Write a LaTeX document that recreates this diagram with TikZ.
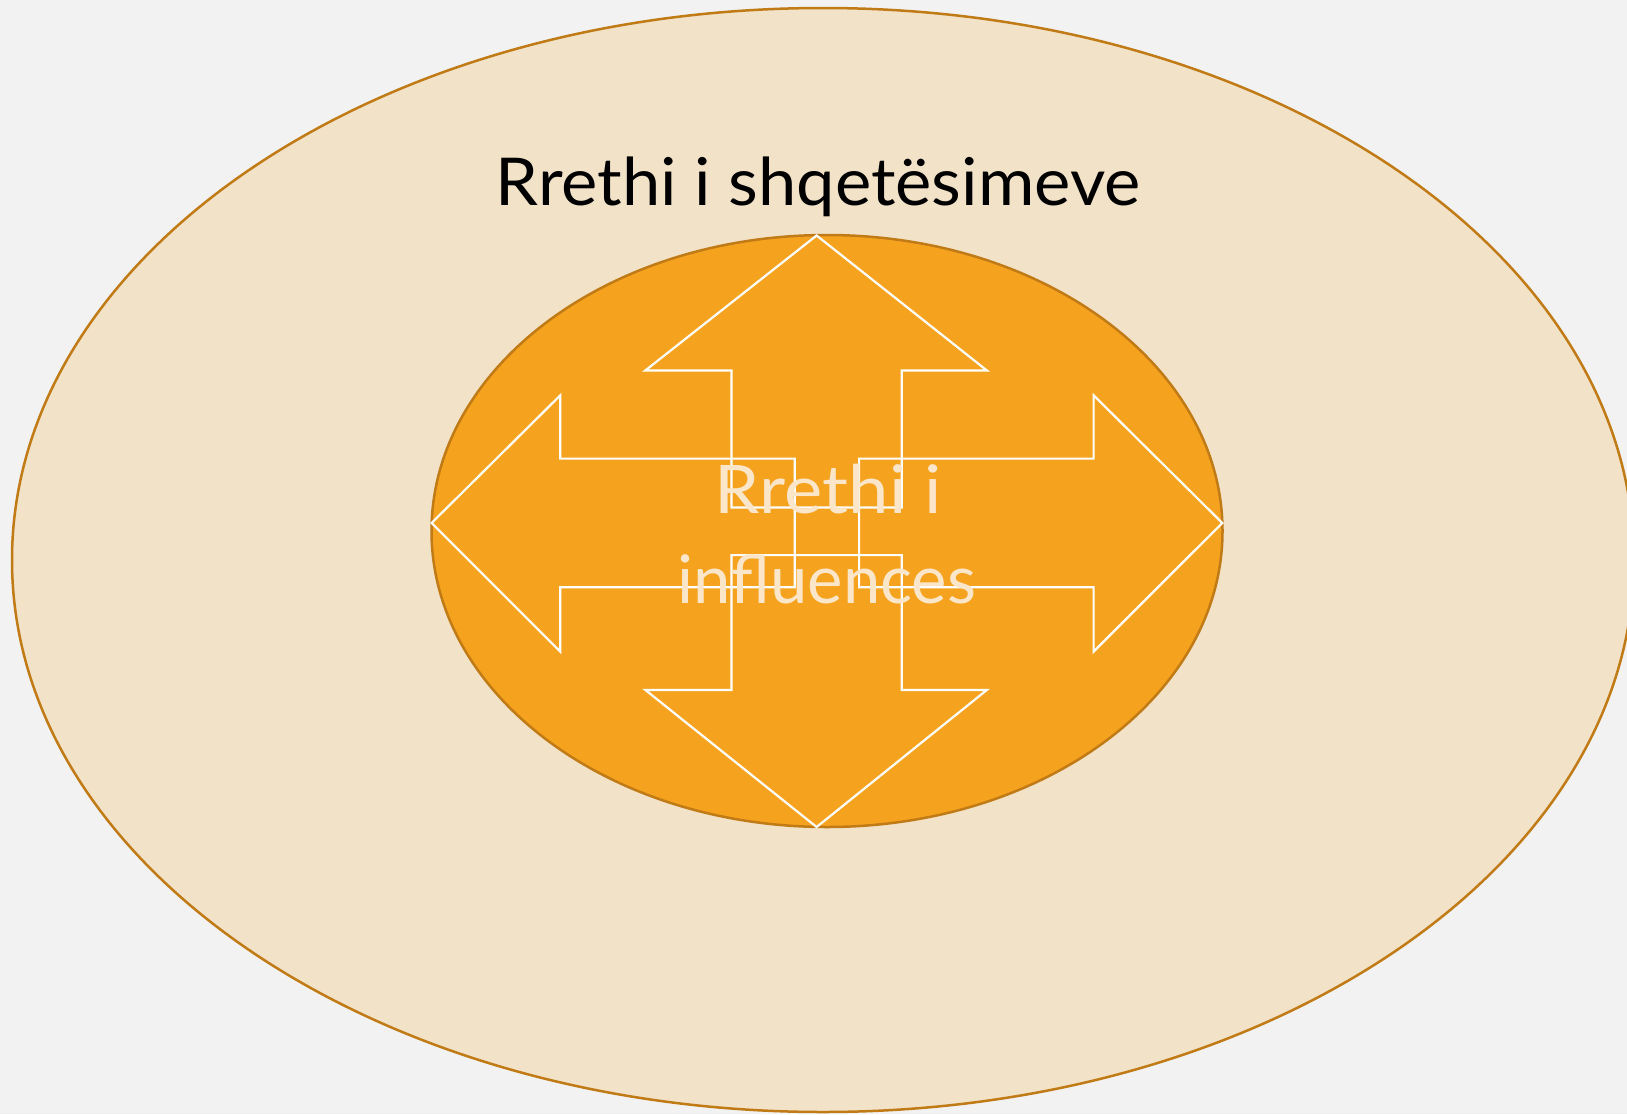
\documentclass[tikz,border=0pt]{standalone}
\usepackage{fontspec}
\setmainfont{Lato}
\definecolor{bg}{HTML}{F2F2F2}
\definecolor{outerfill}{HTML}{F2E2C7}
\definecolor{rim}{HTML}{C17B16}
\definecolor{innerfill}{HTML}{F5A31E}
\definecolor{innertext}{HTML}{FBE6CA}
\tikzset{
  outerring/.style={fill=outerfill,draw=rim,line width=2.5pt},
  innerring/.style={fill=innerfill,draw=rim,line width=2.5pt},
  arrowshape/.style={draw=white,line width=2.2pt,line join=miter},
  titletext/.style={anchor=base,inner sep=0pt,font=\fontsize{66}{80}\selectfont,text=black},
  innerlabel/.style={anchor=base,inner sep=0pt,font=\fontsize{67}{80}\selectfont,text=innertext}
}
\begin{document}
\begin{tikzpicture}[x=1pt,y=-1pt]
\useasboundingbox (0,0) rectangle (1627,1114);
\fill[bg] (0,0) rectangle (1627,1114);
\begin{scope}
\clip (0,0) rectangle (1627,1114);
\draw[outerring] (823,560) ellipse [x radius=811, y radius=552];
\end{scope}
\draw[innerring] (827,531) ellipse [x radius=395.5, y radius=296];
% up arrow
\draw[arrowshape] (731.5,507.4) -- (731.5,370.4) -- (645.4,370.4) -- (816.6,235.5) -- (986.8,370.4) -- (901.7,370.4) -- (901.7,507.4) -- cycle;
% down arrow
\draw[arrowshape] (731.5,555.1) -- (731.5,690) -- (645.4,690) -- (816.6,827) -- (986.8,690) -- (901.7,690) -- (901.7,555.1) -- cycle;
% left arrow
\draw[arrowshape] (794.8,458.6) -- (560.3,458.6) -- (560.3,395.3) -- (431.6,523) -- (560.3,651.6) -- (560.3,587.3) -- (794.8,587.3) -- cycle;
% right arrow
\draw[arrowshape] (859.1,458.6) -- (1093.6,458.6) -- (1093.6,395.3) -- (1222.3,523) -- (1093.6,651.6) -- (1093.6,587.3) -- (859.1,587.3) -- cycle;
\node[titletext] (title) at (818,205.4) {\scalebox{1.04}[1]{Rrethi i shqetësimeve}};
\node[innerlabel] (inner1) at (828.5,513.6) {\scalebox{1.08}[1]{Rrethi i}};
\node[innerlabel] (inner2) at (827,603) {influences};
\end{tikzpicture}
\end{document}
